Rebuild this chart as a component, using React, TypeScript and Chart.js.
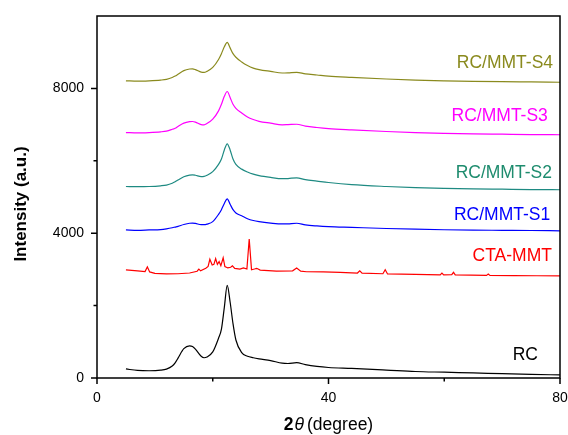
import React, { useEffect, useRef } from "react";
import { Chart, registerables } from "chart.js";

Chart.register(...registerables);

// 2θ grid used by the five polymer patterns
const X = [5, 7, 9, 11, 12, 13, 13.5, 14, 15, 16, 16.5, 17, 18, 18.5, 19, 20, 21, 21.5, 22, 22.5, 23, 23.5, 24, 25, 26, 27, 28, 30, 32, 33, 34.5, 36, 38, 40, 44, 50, 55, 60, 65, 70, 75, 80];

const RC = [250, 210, 200, 215, 245, 330, 420, 550, 810, 890, 870, 800, 600, 560, 580, 720, 1100, 1350, 1950, 2560, 2100, 1500, 1050, 700, 600, 560, 530, 480, 410, 400, 425, 370, 320, 290, 265, 220, 180, 160, 140, 120, 100, 85];
const S1 = [4090, 4080, 4090, 4100, 4120, 4150, 4170, 4190, 4240, 4275, 4280, 4270, 4235, 4235, 4250, 4320, 4520, 4650, 4820, 4950, 4800, 4650, 4560, 4480, 4400, 4350, 4320, 4280, 4255, 4260, 4275, 4230, 4200, 4180, 4160, 4130, 4110, 4095, 4085, 4080, 4075, 4065];
const S2 = [5290, 5285, 5290, 5310, 5330, 5380, 5420, 5470, 5560, 5605, 5610, 5600, 5565, 5570, 5600, 5700, 5900, 6050, 6300, 6470, 6300, 6050, 5900, 5770, 5690, 5630, 5590, 5540, 5505, 5510, 5530, 5480, 5440, 5400, 5340, 5290, 5260, 5240, 5225, 5215, 5205, 5200];
const S3 = [6780, 6770, 6780, 6800, 6820, 6870, 6900, 6950, 7040, 7080, 7085, 7070, 7000, 6995, 7030, 7150, 7380, 7560, 7780, 7915, 7750, 7560, 7450, 7320, 7210, 7140, 7090, 7040, 6995, 7000, 7010, 6960, 6920, 6890, 6855, 6810, 6780, 6760, 6745, 6735, 6725, 6720];
const S4 = [8210, 8200, 8210, 8230, 8250, 8300, 8340, 8390, 8490, 8535, 8540, 8520, 8450, 8440, 8470, 8580, 8800, 8960, 9150, 9270, 9120, 8960, 8860, 8730, 8630, 8560, 8520, 8470, 8425, 8430, 8445, 8400, 8370, 8340, 8305, 8260, 8230, 8210, 8195, 8185, 8178, 8170];

// CTA-MMT has its own 2θ grid (sharp reflections)
const CTA_X = [5, 7, 8.3, 8.7, 9.1, 10, 12, 14, 16, 17.3, 17.6, 17.9, 18.8, 19.2, 19.5, 19.9, 20.2, 20.5, 20.8, 21.1, 21.4, 21.8, 22.1, 22.6, 23.1, 23.4, 23.8, 24.7, 25.3, 25.9, 26.3, 26.7, 27.2, 27.6, 28.2, 29.6, 31, 33.8, 34.5, 35.2, 36.2, 39.1, 42, 45, 45.4, 45.8, 49.4, 49.8, 50.2, 55, 59.3, 59.6, 59.9, 61.3, 61.6, 61.9, 67.3, 67.6, 67.9, 72, 76, 80];
const CTA = [2985, 2960, 2940, 3070, 2930, 2890, 2875, 2880, 2900, 2950, 3010, 2960, 3030, 3080, 3280, 3120, 3140, 3300, 3140, 3215, 3100, 3320, 3080, 3040, 3060, 3100, 3030, 3010, 3040, 3010, 3840, 2990, 3010, 3030, 2980, 2965, 2950, 2960, 3040, 2950, 2935, 2930, 2920, 2900, 2960, 2895, 2880, 2990, 2875, 2860, 2850, 2900, 2850, 2855, 2920, 2850, 2835, 2870, 2835, 2830, 2825, 2820];

const NAMES = ["RC", "CTA-MMT", "RC/MMT-S1", "RC/MMT-S2", "RC/MMT-S3", "RC/MMT-S4"];
const LINE_COLORS = ["#000000", "#FF0000", "#0000FF", "#1E8A82", "#FF00FF", "#8A8A1E"];
const TEXT_COLORS = ["#000000", "#FF0000", "#0000FF", "#1E8C6E", "#FF00FF", "#8A8A1E"];
// label anchor (right edge) in data coordinates
const LABEL_AT: [number, number][] = [[76.2, 636], [78.6, 3353], [78.3, 4506], [78.6, 5658], [77.9, 7223], [78.8, 8708]];

const X_TICKS_MAJOR = [0, 40, 80];
const X_TICKS_MINOR = [20, 60];
const Y_TICKS_MAJOR = [0, 4000, 8000];
const Y_TICKS_MINOR = [2000, 6000];

const FONT = '"Liberation Sans", Arial, Helvetica, sans-serif';

function pts(xs: number[], ys: number[]) {
  return xs.map((x, i) => ({ x, y: ys[i] }));
}

const decorPlugin = {
  id: "decor",
  afterDraw(chart: any) {
    const { ctx, chartArea: a, scales } = chart;
    const xs = scales.x;
    const ys = scales.y;
    ctx.save();
    ctx.strokeStyle = "#000";
    ctx.lineWidth = 1.5;
    ctx.strokeRect(a.left, a.top, a.right - a.left, a.bottom - a.top);
    ctx.beginPath();
    X_TICKS_MAJOR.forEach((v) => {
      const p = xs.getPixelForValue(v);
      ctx.moveTo(p, a.bottom);
      ctx.lineTo(p, a.bottom + 6);
    });
    X_TICKS_MINOR.forEach((v) => {
      const p = xs.getPixelForValue(v);
      ctx.moveTo(p, a.bottom);
      ctx.lineTo(p, a.bottom + 3.5);
    });
    Y_TICKS_MAJOR.forEach((v) => {
      const p = ys.getPixelForValue(v);
      ctx.moveTo(a.left, p);
      ctx.lineTo(a.left - 6, p);
    });
    Y_TICKS_MINOR.forEach((v) => {
      const p = ys.getPixelForValue(v);
      ctx.moveTo(a.left, p);
      ctx.lineTo(a.left - 3.5, p);
    });
    ctx.stroke();

    // series labels
    ctx.font = `17.5px ${FONT}`;
    ctx.textAlign = "right";
    ctx.textBaseline = "middle";
    NAMES.forEach((n, i) => {
      ctx.fillStyle = TEXT_COLORS[i];
      ctx.fillText(n, xs.getPixelForValue(LABEL_AT[i][0]), ys.getPixelForValue(LABEL_AT[i][1]));
    });

    // y title
    ctx.fillStyle = "#000";
    ctx.save();
    ctx.translate(21, (a.top + a.bottom) / 2 + 7);
    ctx.rotate(-Math.PI / 2);
    ctx.textAlign = "center";
    ctx.font = `bold 17px ${FONT}`;
    ctx.fillText("Intensity (a.u.)", 0, 0);
    ctx.restore();

    // x title: bold 2, italic θ, regular (degree)
    const parts = [
      { t: "2", f: `bold 17.5px ${FONT}` },
      { t: "\u03B8", f: `italic 17.5px ${FONT}` },
      { t: "(degree)", f: `17.5px ${FONT}` },
    ];
    const gaps = [1, 3, 0];
    let total = 0;
    const widths = parts.map((p, i) => {
      ctx.font = p.f;
      const w = ctx.measureText(p.t).width;
      total += w + gaps[i];
      return w;
    });
    let cx = xs.getPixelForValue(40) - total / 2;
    ctx.textAlign = "left";
    ctx.textBaseline = "middle";
    parts.forEach((p, i) => {
      ctx.font = p.f;
      ctx.fillText(p.t, cx, 425);
      cx += widths[i] + gaps[i];
    });
    ctx.restore();
  },
};

export default function App() {
  const ref = useRef<HTMLCanvasElement | null>(null);
  useEffect(() => {
    if (!ref.current) return;
    const series = [pts(X, RC), pts(CTA_X, CTA), pts(X, S1), pts(X, S2), pts(X, S3), pts(X, S4)];
    const chart = new Chart(ref.current, {
      type: "line",
      data: {
        datasets: series.map((d, i) => ({
          label: NAMES[i],
          data: d,
          borderColor: LINE_COLORS[i],
          borderWidth: 1.2,
          pointRadius: 0,
          fill: false,
          tension: i === 1 ? 0 : 0.3,
          cubicInterpolationMode: i === 1 ? "default" : "monotone",
        })) as any,
      },
      options: {
        responsive: false,
        animation: false,
        layout: { padding: { top: 16, right: 8, left: 0, bottom: 0 } },
        plugins: { legend: { display: false }, tooltip: { enabled: false } },
        scales: {
          x: {
            type: "linear",
            min: 0,
            max: 80,
            grid: { display: false, drawTicks: false },
            border: { display: false },
            ticks: { padding: 12, color: "#000", font: { family: FONT, size: 14 }, maxRotation: 0 },
            afterBuildTicks: (s: any) => { s.ticks = X_TICKS_MAJOR.map((v) => ({ value: v })); },
            afterFit: (s: any) => { s.height = 57; s.paddingLeft = 0; s.paddingRight = 0; },
          },
          y: {
            type: "linear",
            min: 0,
            max: 10000,
            grid: { display: false, drawTicks: false },
            border: { display: false },
            ticks: { padding: 13, color: "#000", font: { family: FONT, size: 14 }, callback: (v: any) => String(v) },
            afterBuildTicks: (s: any) => { s.ticks = Y_TICKS_MAJOR.map((v) => ({ value: v })); },
            afterFit: (s: any) => { s.width = 97; s.paddingTop = 0; s.paddingBottom = 0; },
          },
        },
      },
      plugins: [decorPlugin],
    });
    return () => chart.destroy();
  }, []);
  return (
    <div style={{ position: "absolute", left: 0, top: 0, width: 568, height: 435, background: "#fff" }}>
      <canvas ref={ref} width={568} height={435} style={{ width: 568, height: 435 }} />
    </div>
  );
}
